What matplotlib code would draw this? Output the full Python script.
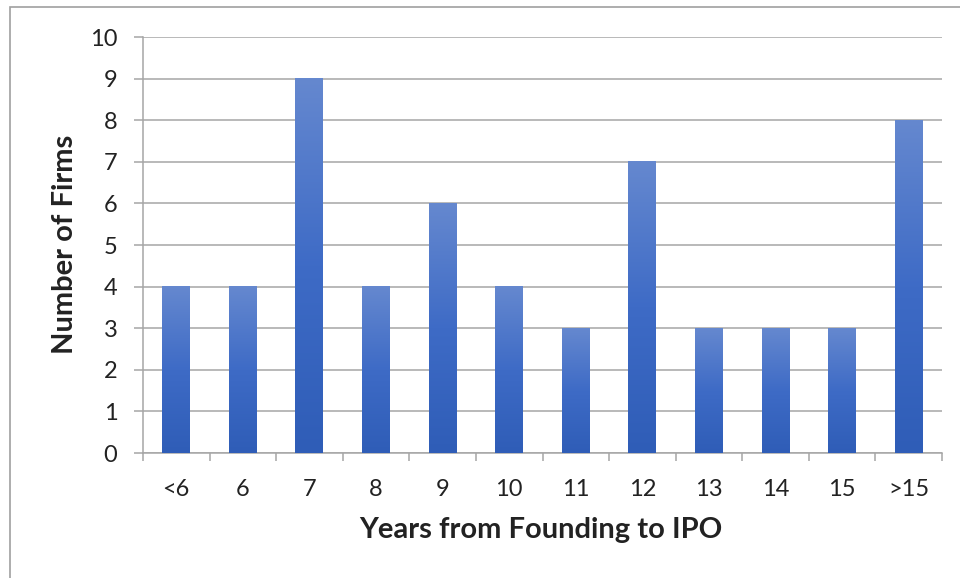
import matplotlib
matplotlib.use("Agg")
import matplotlib.pyplot as plt
from matplotlib.patches import Rectangle
from matplotlib.colors import LinearSegmentedColormap
import numpy as np

# data
categories = ["<6", "6", "7", "8", "9", "10", "11", "12", "13", "14", "15", ">15"]
firms = [4, 4, 9, 4, 6, 4, 3, 7, 3, 3, 3, 8]

plt.rcParams['font.family'] = ['Lato', 'DejaVu Sans']
text_color = '#222222'
grid_color = '#a6a6a6'

fig = plt.figure(figsize=(9.6, 5.78), dpi=100)
ax = fig.add_axes([143/960, 1 - 453/578, (942-143)/960, (453-37)/578])

# outer frame of the chart box
fig.patches.append(Rectangle((10/960, -0.1), 1.2, 1 - 7/578 + 0.1,
                             transform=fig.transFigure, fill=False,
                             edgecolor='#a0a0a0', linewidth=1.2))

x = np.arange(len(categories))
bars = ax.bar(x, firms, width=0.42, color='none', zorder=3)

# vertical gradient for each bar, lighter on top
grad = LinearSegmentedColormap.from_list('bar', ['#2f5db7', '#3e6bc6', '#6588cf'])
g = np.linspace(0, 1, 256).reshape(-1, 1)
for b in bars:
    x0, y0 = b.get_x(), b.get_y()
    ax.imshow(g, cmap=grad, origin='lower', aspect='auto', zorder=3,
              extent=[x0, x0 + b.get_width(), y0, y0 + b.get_height()])

ax.set_xlim(-0.5, len(categories) - 0.5)
ax.set_ylim(0, 10)
ax.set_yticks(range(0, 11))
ax.yaxis.grid(True, color=grid_color, linewidth=1.1, zorder=0)
ax.set_axisbelow(True)

# boundary ticks on x, labels at the centres
ax.set_xticks(np.arange(-0.5, len(categories), 1.0))
ax.set_xticklabels([])
ax.set_xticks(x, minor=True)
ax.set_xticklabels(categories, minor=True)
ax.tick_params(axis='x', which='major', length=6, color=grid_color, width=1.1)
ax.tick_params(axis='x', which='minor', length=0, pad=19, labelsize=17, labelcolor=text_color)
ax.tick_params(axis='y', length=6.5, color=grid_color, width=1.1, pad=12,
               labelsize=17, labelcolor=text_color)

for s in ['top', 'right']:
    ax.spines[s].set_visible(False)
for s in ['left', 'bottom']:
    ax.spines[s].set_color(grid_color)
    ax.spines[s].set_linewidth(1.1)

fig.text(541/960, 1 - 530/578, "Years from Founding to IPO", ha='center', va='center',
         fontsize=21, fontweight='bold', color=text_color)
fig.text(65/960, 1 - 244/578, "Number of Firms", ha='center', va='center', rotation=90,
         fontsize=21, fontweight='bold', color=text_color)

fig.savefig("out.png", dpi=100)
